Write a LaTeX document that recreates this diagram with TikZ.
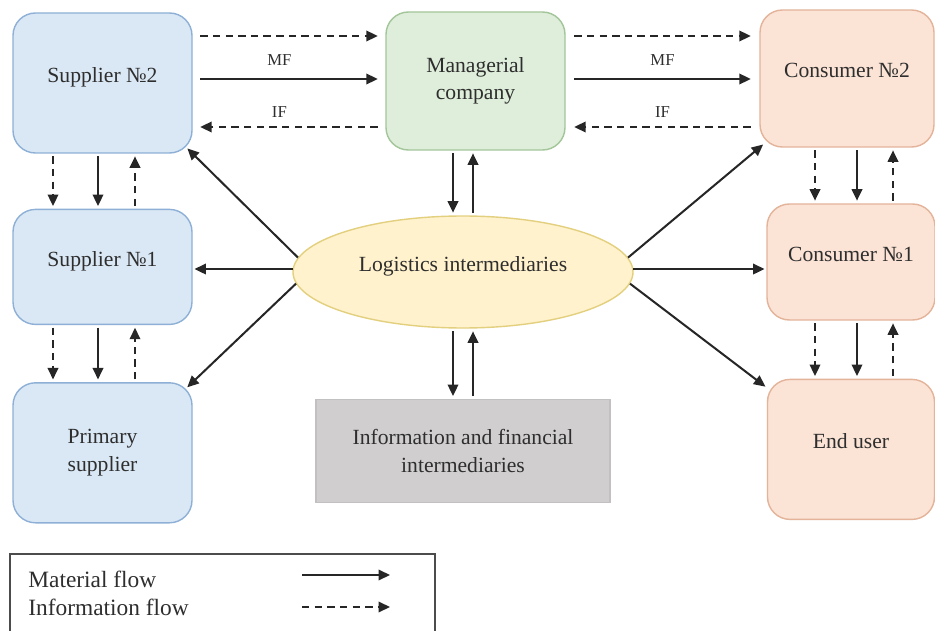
\documentclass[tikz,border=0pt]{standalone}
\usepackage{fontspec}
\setmainfont{Liberation Serif}
\usepackage{tikz}
\usetikzlibrary{arrows.meta, positioning, shapes.geometric}
\usepackage{xcolor}
\definecolor{supFill}{HTML}{DAE8F5}
\definecolor{supLine}{HTML}{8EB0D6}
\definecolor{mgrFill}{HTML}{DEEEDA}
\definecolor{mgrLine}{HTML}{A3C59A}
\definecolor{consFill}{HTML}{FBE3D5}
\definecolor{consLine}{HTML}{E3B39A}
\definecolor{logFill}{HTML}{FFF2CC}
\definecolor{logLine}{HTML}{E3D07F}
\definecolor{infFill}{HTML}{D0CECE}
\definecolor{infLine}{HTML}{C2C0C0}
\definecolor{txtDark}{HTML}{2E2E2E}
\newcommand{\boxfont}{\fontsize{12.3}{15.7}\selectfont}
\newcommand{\lblfont}{\fontsize{9.5}{11}\selectfont}
\newcommand{\legfont}{\fontsize{13.3}{15.9}\selectfont}

\begin{document}
\begin{tikzpicture}[>={Triangle[length=2.3mm,width=2.1mm]}, node distance=1.1cm,
    nodebox/.style={draw, line width=0.8pt, align=center, text=txtDark, font=\boxfont},
    oneline/.style={text depth=9pt},
    supbox/.style={nodebox, rounded corners=0.45cm, fill=supFill, draw=supLine, minimum width=3.58cm},
    mgrbox/.style={nodebox, rounded corners=0.45cm, fill=mgrFill, draw=mgrLine, minimum width=3.58cm, minimum height=2.76cm},
    consbox/.style={nodebox, rounded corners=0.45cm, fill=consFill, draw=consLine},
    logbox/.style={nodebox, ellipse, fill=logFill, draw=logLine, minimum width=6.8cm, minimum height=2.24cm},
    infbox/.style={nodebox, fill=infFill, draw=infLine, minimum width=5.88cm, minimum height=2.06cm},
    matflow/.style={->, line width=1.15pt, black!85},
    infflow/.style={->, line width=1.15pt, black!85, dash pattern=on 4.2pt off 3pt},
    endgap/.style={shorten <=#1, shorten >=#1},
    flowlbl/.style={text=txtDark, font=\lblfont},
    legtext/.style={anchor=base west, inner sep=0pt, text=txtDark, font=\legfont},
    legframe/.style={draw=black!70, line width=0.8pt}]
  \useasboundingbox (0,0) rectangle (18.7,-12.62);

  % suppliers
  \node[supbox, oneline, minimum height=2.8cm] (sup2) at (2.05,-1.66) {Supplier №2};
  \node[supbox, oneline, minimum height=2.3cm, below=1.1cm of sup2] (sup1) {Supplier №1};
  \node[supbox, minimum height=2.8cm, below=1.14cm of sup1] (prim) {Primary\\supplier};

  % centre
  \node[mgrbox] (mgr) at (9.51,-1.62) {Managerial\\company};
  \node[logbox, oneline] (logist) at (9.26,-5.44) {Logistics intermediaries};
  \node[infbox, below=1.4cm of logist] (infofin) {Information and financial\\intermediaries};

  % consumers
  \node[consbox, oneline, minimum width=3.48cm, minimum height=2.74cm] (cons2) at (16.94,-1.57) {Consumer №2};
  \node[consbox, oneline, minimum width=3.36cm, minimum height=2.32cm] (cons1) at (17.02,-5.24) {Consumer №1};
  \node[consbox, oneline, minimum width=3.34cm, minimum height=2.8cm, below=1.16cm of cons1] (enduser) {End user};

  % top row flows
  \draw[infflow, endgap=0.15cm] (sup2.east |- 0,-0.72) -- (mgr.west |- 0,-0.72);
  \draw[matflow, endgap=0.15cm] (sup2.east |- 0,-1.58) -- node[flowlbl, pos=0.45, above=4pt] {MF} (mgr.west |- 0,-1.58);
  \draw[infflow, endgap=0.15cm] (mgr.west |- 0,-2.54) -- node[flowlbl, pos=0.55, above=1.5pt] {IF} (sup2.east |- 0,-2.54);
  \draw[infflow, endgap=0.17cm] (mgr.east |- 0,-0.72) -- (cons2.west |- 0,-0.72);
  \draw[matflow, endgap=0.17cm] (mgr.east |- 0,-1.58) -- node[flowlbl, above=4pt] {MF} (cons2.west |- 0,-1.58);
  \draw[infflow, endgap=0.17cm] (cons2.west |- 0,-2.54) -- node[flowlbl, above=1.5pt] {IF} (mgr.east |- 0,-2.54);

  % supplier chain
  \draw[infflow, endgap=1.5pt] ([xshift=-0.99cm]sup2.south) -- ([xshift=-0.99cm]sup1.north);
  \draw[matflow, endgap=1.5pt] ([xshift=-0.09cm]sup2.south) -- ([xshift=-0.09cm]sup1.north);
  \draw[infflow, endgap=1.5pt] ([xshift=0.65cm]sup1.north) -- ([xshift=0.65cm]sup2.south);
  \draw[infflow, endgap=1.5pt] ([xshift=-0.99cm]sup1.south) -- ([xshift=-0.99cm]prim.north);
  \draw[matflow, endgap=1.5pt] ([xshift=-0.09cm]sup1.south) -- ([xshift=-0.09cm]prim.north);
  \draw[infflow, endgap=1.5pt] ([xshift=0.65cm]prim.north) -- ([xshift=0.65cm]sup1.south);

  % consumer chain
  \draw[infflow, endgap=1.5pt] ([xshift=-0.72cm]cons1.north |- cons2.south) -- ([xshift=-0.72cm]cons1.north);
  \draw[matflow, endgap=1.5pt] ([xshift=0.12cm]cons1.north |- cons2.south) -- ([xshift=0.12cm]cons1.north);
  \draw[infflow, endgap=1.5pt] ([xshift=0.84cm]cons1.north) -- ([xshift=0.84cm]cons1.north |- cons2.south);
  \draw[infflow, endgap=1.5pt] ([xshift=-0.72cm]cons1.south) -- ([xshift=-0.72cm]enduser.north);
  \draw[matflow, endgap=1.5pt] ([xshift=0.12cm]cons1.south) -- ([xshift=0.12cm]enduser.north);
  \draw[infflow, endgap=1.5pt] ([xshift=0.84cm]enduser.north) -- ([xshift=0.84cm]cons1.south);

  % logistics links
  \draw[matflow, endgap=1.5pt] ([xshift=-0.2cm]logist.north |- mgr.south) -- ([xshift=-0.2cm]logist.north);
  \draw[matflow, endgap=1.5pt] ([xshift=0.2cm]logist.north) -- ([xshift=0.2cm]logist.north |- mgr.south);
  \draw[matflow, endgap=1.5pt] ([xshift=-0.2cm]logist.south) -- ([xshift=-0.2cm]logist.south |- infofin.north);
  \draw[matflow, endgap=1.5pt] ([xshift=0.2cm]logist.south |- infofin.north) -- ([xshift=0.2cm]logist.south);
  \draw[matflow, shorten >=-0.15cm] (logist.175) -- (sup2.south east);
  \draw[matflow, shorten >=1pt] (logist.179) -- (logist.179 -| sup1.east);
  \draw[matflow, shorten >=-0.15cm] (logist.184) -- (prim.north east);
  \draw[matflow, shorten >=-0.1cm] (logist.5) -- (cons2.south west);
  \draw[matflow, shorten >=1pt] (logist.1) -- (logist.1 -| cons1.west);
  \draw[matflow, shorten >=1pt] (logist.356) -- ([yshift=-0.18cm]enduser.north west);

  % legend
  \draw[legframe] (0.2,-11.08) rectangle (8.7,-13);
  \node[legtext] (mflow) at (0.56,-11.74) {Material flow};
  \node[legtext] (iflow) at (0.56,-12.3) {Information flow};
  \coordinate (mfs) at (6.04,-11.5);
  \coordinate (mfe) at (7.8,-11.5);
  \coordinate (ifs) at (6.04,-12.14);
  \coordinate (ife) at (7.8,-12.14);
  \draw[matflow] (mfs) -- (mfe);
  \draw[infflow] (ifs) -- (ife);
\end{tikzpicture}
\end{document}
